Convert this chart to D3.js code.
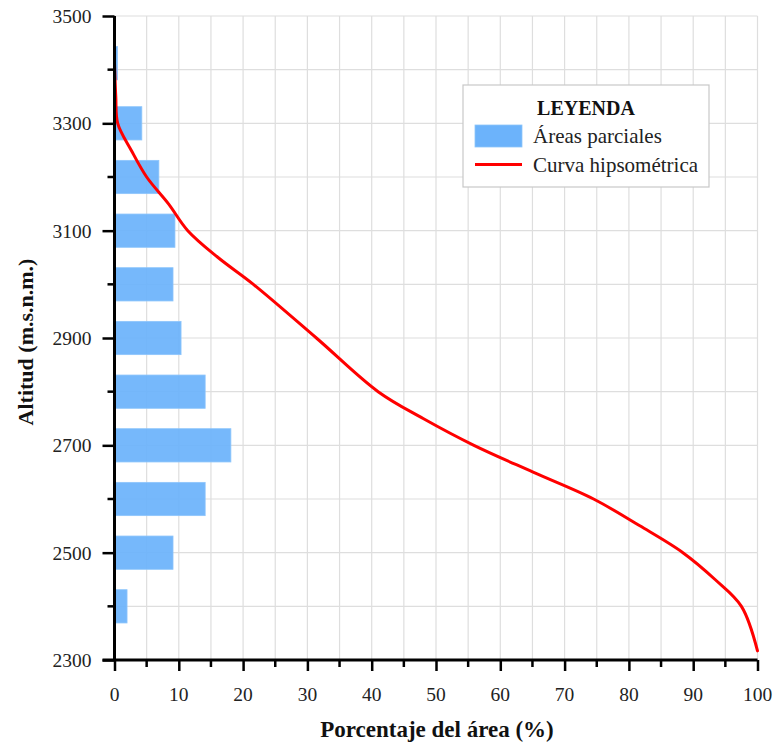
<!DOCTYPE html>
<html>
<head>
<meta charset="utf-8">
<script src="https://cdn.jsdelivr.net/npm/d3@7"></script>
<style>
  html, body { margin: 0; padding: 0; background: #ffffff; }
  svg { display: block; }
</style>
</head>
<body>
<svg id="chart" width="776" height="744"></svg>
<script>
// ---- Data ----
const barAltitudes = [3412, 3300, 3200, 3100, 3000, 2900, 2800, 2700, 2600, 2500, 2400];
const barPercents  = [0.45, 4.25, 6.9, 9.4, 9.1, 10.35, 14.1, 18.1, 14.1, 9.1, 1.95];

const curveAltitudes = [3412, 3350, 3300, 3250, 3200, 3150, 3100, 3050, 3000, 2900, 2800, 2750, 2700, 2650, 2600, 2550, 2500, 2450, 2400, 2317];
const curvePercents  = [0, 0.2, 0.5, 2.6, 5.0, 8.4, 11.4, 16.1, 21.6, 31.4, 41.0, 48.0, 55.9, 65.1, 74.5, 81.7, 88.4, 93.4, 97.5, 100];

const yMajorTicks = [2300, 2500, 2700, 2900, 3100, 3300, 3500];
const yMinorTicks = [2400, 2600, 2800, 3000, 3200, 3400];
const xMajorTicks = [0, 10, 20, 30, 40, 50, 60, 70, 80, 90, 100];
const xMinorTicks = [5, 15, 25, 35, 45, 55, 65, 75, 85, 95];
const gridAltitudes = [2400, 2500, 2600, 2700, 2800, 2900, 3000, 3100, 3200, 3300, 3400, 3500];
const gridPercents = [5, 10, 15, 20, 25, 30, 35, 40, 45, 50, 55, 60, 65, 70, 75, 80, 85, 90, 95, 100];

const xTitle = "Porcentaje del área (%)";
const yTitle = "Altitud (m.s.n.m.)";
const legendTitle = "LEYENDA";
const legendBars = "Áreas parciales";
const legendCurve = "Curva hipsométrica";

// ---- Layout ----
const FONT = "Liberation Serif, Times New Roman, serif";
const barColor = "#6cb3fb";
const svg = d3.select("#chart");
svg.append("rect").attr("width", 776).attr("height", 744).attr("fill", "#fff");

const x = d3.scaleLinear().domain([0, 100]).range([114.5, 757.5]);
const y = d3.scaleLinear().domain([2300, 3500]).range([660, 16]);

// gridlines
const grid = svg.append("g");
grid.selectAll("line.h").data(gridAltitudes).join("line")
  .attr("x1", x(0)).attr("x2", x(100))
  .attr("y1", d => y(d)).attr("y2", d => y(d))
  .attr("stroke", "#dedede").attr("stroke-width", 1.2);
grid.selectAll("line.v").data(gridPercents).join("line")
  .attr("y1", y(2300)).attr("y2", y(3500))
  .attr("x1", d => x(d)).attr("x2", d => x(d))
  .attr("stroke", "#dedede").attr("stroke-width", 1.2);

// bars
const halfBand = 31; // metres, half bar thickness
const bars = barAltitudes.map((a, i) => ({ alt: a, pct: barPercents[i] }));
svg.append("g").selectAll("rect").data(bars).join("rect")
  .attr("x", x(0))
  .attr("y", d => y(d.alt + halfBand))
  .attr("width", d => x(d.pct) - x(0))
  .attr("height", d => y(d.alt - halfBand) - y(d.alt + halfBand))
  .attr("fill", barColor).attr("fill-opacity", 0.93)
  .attr("stroke", "#8ec5fb").attr("stroke-width", 0.8);

// curve
const curvePts = curveAltitudes.map((a, i) => ({ alt: a, pct: curvePercents[i] }));
const line = d3.line()
  .x(d => x(d.pct)).y(d => y(d.alt))
  .curve(d3.curveCatmullRom.alpha(0.5));
svg.append("path").datum(curvePts)
  .attr("d", line)
  .attr("fill", "none").attr("stroke", "#ff0000").attr("stroke-width", 3)
  .attr("stroke-linejoin", "round").attr("stroke-linecap", "round");

// axes (lines and ticks from d3.axis; labels drawn as serif text from the same scales)
const yAxis = svg.append("g").attr("transform", `translate(${x(0)},0)`)
  .call(d3.axisLeft(y).tickValues(yMajorTicks).tickSize(12).tickFormat(() => ""));
yAxis.append("g").selectAll("line").data(yMinorTicks).join("line")
  .attr("x1", 0).attr("x2", -7).attr("y1", d => y(d)).attr("y2", d => y(d))
  .attr("stroke", "#000").attr("stroke-width", 2.5);

const xAxis = svg.append("g").attr("transform", `translate(0,${y(2300)})`)
  .call(d3.axisBottom(x).tickValues(xMajorTicks).tickSize(11).tickFormat(() => ""));
xAxis.append("g").selectAll("line").data(xMinorTicks).join("line")
  .attr("y1", 0).attr("y2", 7).attr("x1", d => x(d)).attr("x2", d => x(d))
  .attr("stroke", "#000").attr("stroke-width", 2.5);

[yAxis, xAxis].forEach(g => {
  g.select(".domain").attr("stroke", "#000").attr("stroke-width", 3);
  g.selectAll(".tick line").attr("stroke", "#000").attr("stroke-width", 2.5);
});
yAxis.select(".domain").attr("d", `M0,${y(3500)}V${y(2300)}`);
xAxis.select(".domain").attr("d", `M${x(0) - 12},0H${x(100)}`);

svg.append("g").selectAll("text").data(yMajorTicks).join("text")
  .attr("x", x(0) - 23).attr("y", d => y(d) + 7)
  .attr("text-anchor", "end")
  .attr("font-family", FONT).attr("font-size", 19.5).attr("fill", "#222")
  .text(d => d3.format("d")(d));
svg.append("g").selectAll("text").data(xMajorTicks).join("text")
  .attr("x", d => x(d)).attr("y", 701)
  .attr("text-anchor", "middle")
  .attr("font-family", FONT).attr("font-size", 19.5).attr("fill", "#222")
  .text(d => d3.format("d")(d));

// axis titles
svg.append("text")
  .attr("x", x(50) + 1).attr("y", 737)
  .attr("text-anchor", "middle")
  .attr("font-family", FONT).attr("font-weight", "bold").attr("font-size", 23)
  .attr("fill", "#111")
  .text(xTitle);
svg.append("text")
  .attr("transform", `translate(33,${(y(2300) + y(3500)) / 2 + 4}) rotate(-90)`)
  .attr("text-anchor", "middle")
  .attr("font-family", FONT).attr("font-weight", "bold").attr("font-size", 22)
  .attr("fill", "#111")
  .text(yTitle);

// legend
const lg = svg.append("g");
lg.append("rect").attr("x", 463).attr("y", 85).attr("width", 246).attr("height", 102)
  .attr("fill", "#fff").attr("stroke", "#c8c8c8").attr("stroke-width", 1.2);
lg.append("text").attr("x", 586).attr("y", 115).attr("text-anchor", "middle")
  .attr("font-family", FONT).attr("font-weight", "bold").attr("font-size", 20).attr("fill", "#111")
  .text(legendTitle);
lg.append("rect").attr("x", 475).attr("y", 125).attr("width", 47).attr("height", 22)
  .attr("fill", barColor).attr("stroke", "#8ec5fb").attr("stroke-width", 0.8);
lg.append("text").attr("x", 533).attr("y", 143)
  .attr("font-family", FONT).attr("font-size", 21).attr("fill", "#222")
  .text(legendBars);
lg.append("line").attr("x1", 475).attr("x2", 522).attr("y1", 164.5).attr("y2", 164.5)
  .attr("stroke", "#ff0000").attr("stroke-width", 3);
lg.append("text").attr("x", 533).attr("y", 172)
  .attr("font-family", FONT).attr("font-size", 21).attr("fill", "#222")
  .text(legendCurve);
</script>
</body>
</html>
